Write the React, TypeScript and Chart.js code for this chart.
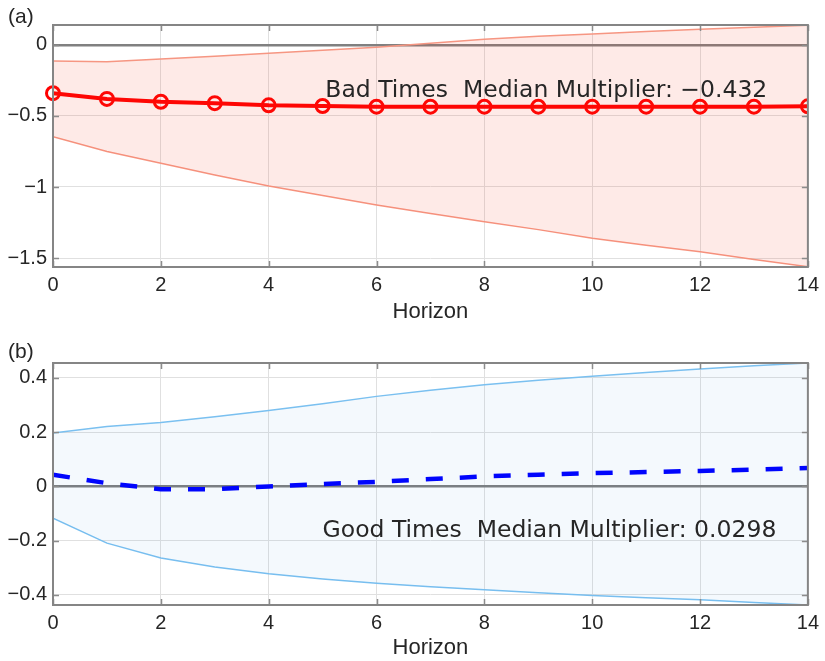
import React, { useEffect, useRef } from "react";
import { Chart, registerables } from "chart.js";

Chart.register(...registerables);

// ---------- data ----------
const horizon = [0, 1, 2, 3, 4, 5, 6, 7, 8, 9, 10, 11, 12, 13, 14];

const badMedian = [-0.34, -0.38, -0.4, -0.41, -0.425, -0.43, -0.435, -0.435, -0.435, -0.435, -0.435, -0.435, -0.435, -0.435, -0.432];
const badUpper = [-0.113, -0.118, -0.1, -0.08, -0.058, -0.037, -0.016, 0.012, 0.04, 0.06, 0.077, 0.095, 0.11, 0.125, 0.138];
const badLower = [-0.646, -0.75, -0.833, -0.915, -0.993, -1.06, -1.127, -1.187, -1.244, -1.3, -1.361, -1.41, -1.456, -1.51, -1.561];

const goodMedian = [0.043, 0.012, -0.01, -0.01, 0.0, 0.009, 0.017, 0.027, 0.037, 0.043, 0.049, 0.053, 0.057, 0.062, 0.068];
const goodUpper = [0.197, 0.221, 0.236, 0.257, 0.28, 0.305, 0.332, 0.355, 0.375, 0.391, 0.406, 0.42, 0.433, 0.445, 0.455];
const goodLower = [-0.117, -0.209, -0.264, -0.297, -0.322, -0.341, -0.357, -0.37, -0.381, -0.392, -0.402, -0.41, -0.418, -0.428, -0.437];

const xTicks = [0, 2, 4, 6, 8, 10, 12, 14];
const xTickLabels = ["0", "2", "4", "6", "8", "10", "12", "14"];
const badYTicks = [-1.5, -1, -0.5, 0];
const badYTickLabels = ["\u22121.5", "\u22121", "\u22120.5", "0"];
const goodYTicks = [-0.4, -0.2, 0, 0.2, 0.4];
const goodYTickLabels = ["\u22120.4", "\u22120.2", "0", "0.2", "0.4"];

const badYRange = [-1.563, 0.14];
const goodYRange = [-0.437, 0.455];
const xRange = [0, 14];

const badText = "Bad Times  Median Multiplier: \u22120.432";
const goodText = "Good Times  Median Multiplier: 0.0298";
const badTextAnchor = [5.05, -0.364];
const goodTextAnchor = [5.0, -0.185];

const xTitle = "Horizon";

// ---------- helpers ----------
const TICK_FONT = { family: "'Liberation Sans', Arial, sans-serif", size: 20 };
const TEXT_COLOR = "#262626";

const pts = (ys: number[]) => horizon.map((h, i) => ({ x: h, y: ys[i] }));

const framePlugin = {
  id: "frame",
  afterDraw(chart: any) {
    const { ctx, chartArea } = chart;
    const { left, right, top, bottom } = chartArea;
    ctx.save();
    ctx.strokeStyle = "#8c8c8c";
    ctx.lineWidth = 1.5;
    const xs = chart.scales.x;
    const ys = chart.scales.y;
    ctx.beginPath();
    xs.ticks.forEach((t: any) => {
      const px = Math.round(xs.getPixelForValue(t.value)) + 0.5;
      ctx.moveTo(px, bottom);
      ctx.lineTo(px, bottom - 6);
      ctx.moveTo(px, top);
      ctx.lineTo(px, top + 6);
    });
    ys.ticks.forEach((t: any) => {
      const py = Math.round(ys.getPixelForValue(t.value)) + 0.5;
      ctx.moveTo(left, py);
      ctx.lineTo(left + 6, py);
      ctx.moveTo(right, py);
      ctx.lineTo(right - 6, py);
    });
    ctx.stroke();
    ctx.lineWidth = 2;
    ctx.strokeStyle = "#858585";
    ctx.strokeRect(left, top, right - left, bottom - top);
    ctx.restore();
  },
};

const annotPlugin = {
  id: "annot",
  afterDatasetsDraw(chart: any, _args: any, opts: any) {
    if (!opts || !opts.text) return;
    const { ctx } = chart;
    const px = chart.scales.x.getPixelForValue(opts.x);
    const py = chart.scales.y.getPixelForValue(opts.y);
    ctx.save();
    ctx.font = "23.5px 'DejaVu Sans', Verdana, sans-serif";
    ctx.fillStyle = "#262626";
    ctx.textAlign = "left";
    ctx.textBaseline = "alphabetic";
    ctx.fillText(opts.text, px, py);
    ctx.restore();
  },
};

function makeScales(yRange: number[], yTicks: number[], yLabels: string[], xHeight: number, titlePad: number) {
  return {
    x: {
      type: "linear",
      min: xRange[0],
      max: xRange[1],
      afterBuildTicks: (s: any) => {
        s.ticks = xTicks.map((v) => ({ value: v }));
      },
      afterFit: (s: any) => {
        s.height = xHeight;
      },
      border: { display: false },
      grid: { color: "#e0e0e0", lineWidth: 1, drawTicks: false },
      ticks: {
        padding: 6,
        color: TEXT_COLOR,
        font: TICK_FONT,
        maxRotation: 0,
        autoSkip: false,
        callback: (v: any) => {
          const i = xTicks.indexOf(v);
          return i >= 0 ? xTickLabels[i] : "";
        },
      },
      title: {
        display: true,
        text: xTitle,
        color: TEXT_COLOR,
        font: { family: "'Liberation Sans', Arial, sans-serif", size: 22 },
        padding: { top: 0, bottom: titlePad },
      },
    },
    y: {
      type: "linear",
      min: yRange[0],
      max: yRange[1],
      afterBuildTicks: (s: any) => {
        s.ticks = yTicks.map((v) => ({ value: v }));
      },
      afterFit: (s: any) => {
        s.width = 53;
      },
      border: { display: false },
      grid: {
        drawTicks: false,
        color: (c: any) => (c.tick && Math.abs(c.tick.value) < 1e-9 ? "#808080" : "#e0e0e0"),
        lineWidth: (c: any) => (c.tick && Math.abs(c.tick.value) < 1e-9 ? 2.5 : 1),
      },
      ticks: {
        padding: 6,
        color: TEXT_COLOR,
        font: TICK_FONT,
        autoSkip: false,
        callback: (v: any) => {
          const i = yTicks.findIndex((t) => Math.abs(t - v) < 1e-9);
          return i >= 0 ? yLabels[i] : "";
        },
      },
    },
  };
}

function BadChart() {
  const ref = useRef<HTMLCanvasElement | null>(null);
  useEffect(() => {
    if (!ref.current) return;
    const chart = new Chart(ref.current, {
      type: "line",
      data: {
        datasets: [
          {
            data: pts(badUpper),
            borderColor: "rgb(246,150,130)",
            borderWidth: 1.5,
            backgroundColor: "rgba(250,60,40,0.11)",
            fill: "+1",
            pointRadius: 0,
            tension: 0,
          },
          {
            data: pts(badLower),
            borderColor: "rgb(246,150,130)",
            borderWidth: 1.5,
            fill: false,
            pointRadius: 0,
            tension: 0,
          },
          {
            data: pts(badMedian),
            borderColor: "#ff0000",
            borderWidth: 4,
            fill: false,
            pointRadius: 6.5,
            pointBorderWidth: 3,
            pointBorderColor: "#ff0000",
            pointBackgroundColor: "rgba(0,0,0,0)",
            tension: 0,
            clip: { left: false, top: false, bottom: false, right: 0 },
          },
        ],
      } as any,
      options: {
        responsive: false,
        animation: false,
        devicePixelRatio: 1,
        layout: { padding: { left: 0, right: 11, top: 25, bottom: 0 } },
        plugins: {
          legend: { display: false },
          tooltip: { enabled: false },
          annot: { text: badText, x: badTextAnchor[0], y: badTextAnchor[1] },
        } as any,
        scales: makeScales(badYRange, badYTicks, badYTickLabels, 63, 5) as any,
      },
      plugins: [framePlugin, annotPlugin],
    });
    return () => chart.destroy();
  }, []);
  return <canvas ref={ref} width={825} height={330} style={{ width: 825, height: 330, display: "block" }} />;
}

function GoodChart() {
  const ref = useRef<HTMLCanvasElement | null>(null);
  useEffect(() => {
    if (!ref.current) return;
    const chart = new Chart(ref.current, {
      type: "line",
      data: {
        datasets: [
          {
            data: pts(goodUpper),
            borderColor: "rgb(122,192,240)",
            borderWidth: 1.5,
            backgroundColor: "rgba(0,120,200,0.045)",
            fill: "+1",
            pointRadius: 0,
            tension: 0,
          },
          {
            data: pts(goodLower),
            borderColor: "rgb(122,192,240)",
            borderWidth: 1.5,
            fill: false,
            pointRadius: 0,
            tension: 0,
          },
          {
            data: pts(goodMedian),
            borderColor: "#0000ff",
            borderWidth: 4.5,
            borderDash: [17, 17],
            borderCapStyle: "butt",
            fill: false,
            pointRadius: 0,
            tension: 0,
          },
        ],
      } as any,
      options: {
        responsive: false,
        animation: false,
        devicePixelRatio: 1,
        layout: { padding: { left: 0, right: 11, top: 33, bottom: 0 } },
        plugins: {
          legend: { display: false },
          tooltip: { enabled: false },
          annot: { text: goodText, x: goodTextAnchor[0], y: goodTextAnchor[1] },
        } as any,
        scales: makeScales(goodYRange, goodYTicks, goodYTickLabels, 56, 0) as any,
      },
      plugins: [framePlugin, annotPlugin],
    });
    return () => chart.destroy();
  }, []);
  return <canvas ref={ref} width={825} height={331} style={{ width: 825, height: 331, display: "block" }} />;
}

const panelLabelStyle: React.CSSProperties = {
  position: "absolute",
  left: 8,
  fontFamily: "'Liberation Sans', Arial, sans-serif",
  fontSize: 21,
  lineHeight: "24px",
  color: TEXT_COLOR,
};

export default function App() {
  return (
    <div style={{ position: "absolute", left: 0, top: 0, width: 825, height: 661, background: "#fff", overflow: "hidden" }}>
      <div style={{ position: "absolute", left: 0, top: 0 }}>
        <BadChart />
      </div>
      <div style={{ position: "absolute", left: 0, top: 330 }}>
        <GoodChart />
      </div>
      <div style={{ ...panelLabelStyle, top: 4 }}>(a)</div>
      <div style={{ ...panelLabelStyle, top: 339 }}>(b)</div>
    </div>
  );
}
